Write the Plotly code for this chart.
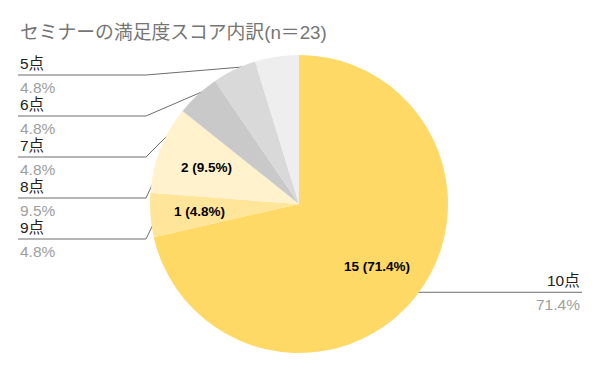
import math
import plotly.graph_objects as go

# ---- data ----
labels = ["10点", "9点", "8点", "7点", "6点", "5点"]
counts = [15, 1, 2, 1, 1, 1]
colors = ["#FFD966", "#FFE599", "#FFF2CC", "#C9C9C9", "#D9D9D9", "#EEEEEE"]
title = "セミナーの満足度スコア内訳(n＝23)"

W, H = 600, 371
CX, CY, R = 299, 204, 149
total = sum(counts)
pcts = [c / total * 100 for c in counts]

FONT = "Arial, Liberation Sans, Noto Sans CJK JP"

fig = go.Figure()
fig.add_trace(go.Pie(
    labels=labels, values=counts, sort=False, direction="clockwise", rotation=0,
    marker=dict(colors=colors, line=dict(width=0)),
    textinfo="none", hoverinfo="label+value+percent", showlegend=False,
    domain=dict(x=[(CX - R) / W, (CX + R) / W], y=[(H - CY - R) / H, (H - CY + R) / H]),
))

# angle helpers (clockwise from 12 o'clock)
mids = []
cum = 0
for c in counts:
    a0 = cum / total * 2 * math.pi
    cum += c
    a1 = cum / total * 2 * math.pi
    mids.append((a0 + a1) / 2)

def pt(a, f):
    return CX + f * R * math.sin(a), CY - f * R * math.cos(a)

annotations = []
# inside labels for larger slices
for i, (c, p) in enumerate(zip(counts, pcts)):
    if labels[i] in ("10点", "9点", "8点"):
        x, y = pt(mids[i], 0.67)
        annotations.append(dict(x=x, y=y, xref="x", yref="y", text=f"<b>{c} ({p:.1f}%)</b>",
                                showarrow=False, font=dict(size=13.5, color="#000000", family=FONT),
                                xanchor="center", yanchor="middle"))

# leader lines
LEFT_X, ELBOW_X = 18, 146
left_order = ["5点", "6点", "7点", "8点", "9点"]
line_color = "#6d6d6d"
LBL = 15.5
for k, lab in enumerate(left_order):
    i = labels.index(lab)
    uy = 75 + 41 * k
    dx, dy = pt(mids[i], 0.95)
    fig.add_trace(go.Scatter(x=[LEFT_X, ELBOW_X, dx], y=[uy, uy, dy], mode="lines",
                             line=dict(color=line_color, width=1), hoverinfo="skip", showlegend=False,
                             xaxis="x", yaxis="y"))
    fig.add_trace(go.Scatter(x=[dx], y=[dy], mode="markers",
                             marker=dict(color="#999999", size=5), hoverinfo="skip", showlegend=False))
    annotations.append(dict(x=LEFT_X, y=uy - 1, xref="x", yref="y", text=lab, showarrow=False,
                            xanchor="left", yanchor="bottom",
                            font=dict(size=LBL, color="#222222", family=FONT)))
    annotations.append(dict(x=LEFT_X, y=uy + 2, xref="x", yref="y", text=f"{pcts[i]:.1f}%", showarrow=False,
                            xanchor="left", yanchor="top",
                            font=dict(size=LBL, color="#9E9E9E", family=FONT)))

# right label (10点)
i = 0
dx, dy = pt(mids[i], 0.95)
RIGHT_X = 582
fig.add_trace(go.Scatter(x=[dx, RIGHT_X], y=[dy, dy], mode="lines",
                         line=dict(color=line_color, width=1), hoverinfo="skip", showlegend=False))
fig.add_trace(go.Scatter(x=[dx], y=[dy], mode="markers",
                         marker=dict(color="#999999", size=5), hoverinfo="skip", showlegend=False))
annotations.append(dict(x=RIGHT_X, y=dy - 1, xref="x", yref="y", text=labels[i], showarrow=False,
                        xanchor="right", yanchor="bottom",
                        font=dict(size=LBL, color="#222222", family=FONT)))
annotations.append(dict(x=RIGHT_X, y=dy + 2, xref="x", yref="y", text=f"{pcts[i]:.1f}%", showarrow=False,
                        xanchor="right", yanchor="top",
                        font=dict(size=LBL, color="#9E9E9E", family=FONT)))

# title
annotations.append(dict(x=18, y=32, xref="x", yref="y", text=title, showarrow=False,
                        xanchor="left", yanchor="middle",
                        font=dict(size=18.8, color="#757575", family="Arial, Noto Sans CJK JP")))

fig.update_layout(
    width=W, height=H, margin=dict(l=0, r=0, t=0, b=0),
    paper_bgcolor="white", plot_bgcolor="rgba(0,0,0,0)",
    xaxis=dict(range=[0, W], visible=False, fixedrange=True, domain=[0, 1]),
    yaxis=dict(range=[H, 0], visible=False, fixedrange=True, domain=[0, 1]),
    annotations=annotations,
)

fig.write_html("out.html", config={"displayModeBar": False},
               post_script="document.body.style.margin='0';document.body.style.overflow='hidden';")
